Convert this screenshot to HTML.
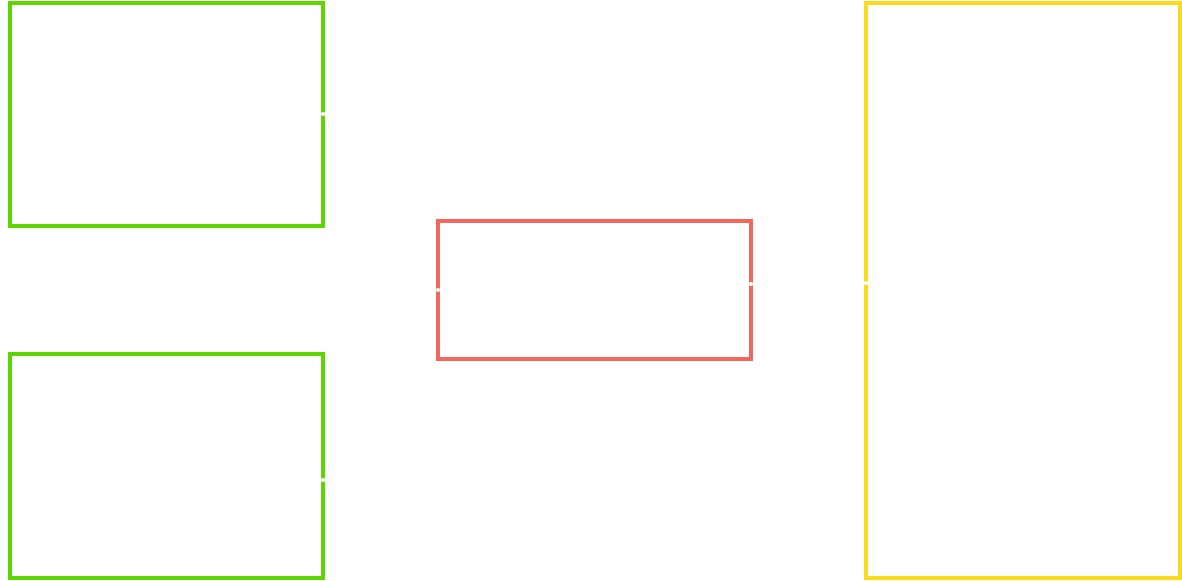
<!DOCTYPE html>
<html><head><meta charset="utf-8"><style>
html,body{margin:0;padding:0;background:#fff;width:1182px;height:581px;overflow:hidden}
svg{display:block}
</style></head><body>
<svg width="1182" height="581" viewBox="0 0 1182 581" xmlns="http://www.w3.org/2000/svg">
<g fill="none" stroke-width="4">
<rect x="10" y="3" width="313" height="223" stroke="#5cd500"/>
<rect x="10" y="354" width="313" height="224" stroke="#5cd500"/>
<rect x="438" y="221" width="313" height="138" stroke="#f2665c"/>
<rect x="866" y="3" width="314" height="575" stroke="#f8dc1c"/>
</g>
<g fill="#fff">
<circle cx="323" cy="114" r="2"/>
<circle cx="323" cy="480" r="2"/>
<circle cx="438" cy="290" r="2"/>
<circle cx="751" cy="284" r="2"/>
<circle cx="866" cy="283" r="2"/>
</g>
</svg>
</body></html>
